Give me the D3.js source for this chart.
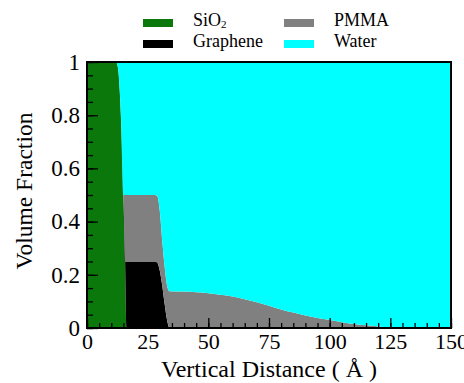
<!DOCTYPE html>
<html>
<head>
<meta charset="utf-8">
<script src="https://cdn.jsdelivr.net/npm/d3@7"></script>
<style>
body { margin:0; background:#fff; }
</style>
</head>
<body>
<svg id="chart" width="464" height="383"></svg>
<script>
// distance samples (Angstrom) and volume fractions of each material
const distance = [0, 12, 12.5, 13, 13.5, 14, 15, 15.7, 16.3, 17, 28, 29, 30, 31, 32, 33, 34,
                  40, 45, 50, 55, 60, 65, 70, 75, 80, 85, 90, 95, 100, 105, 110, 115, 120, 125, 130, 135, 150];
const sio2     = [1, 1, 0.99, 0.96, 0.89, 0.79, 0.5, 0.25, 0, 0, 0, 0, 0, 0, 0, 0, 0,
                  0, 0, 0, 0, 0, 0, 0, 0, 0, 0, 0, 0, 0, 0, 0, 0, 0, 0, 0, 0, 0];
const graphene = [0, 0, 0, 0, 0, 0, 0, 0, 0.25, 0.25, 0.25, 0.245, 0.215, 0.16, 0.09, 0.03, 0,
                  0, 0, 0, 0, 0, 0, 0, 0, 0, 0, 0, 0, 0, 0, 0, 0, 0, 0, 0, 0, 0];
const pmma     = [0, 0, 0, 0, 0, 0, 0, 0.25, 0.25, 0.25, 0.25, 0.25, 0.225, 0.17, 0.14, 0.13, 0.138,
                  0.137, 0.134, 0.131, 0.125, 0.118, 0.108, 0.097, 0.084, 0.07, 0.058, 0.047, 0.038, 0.03, 0.022, 0.015, 0.01, 0.006, 0.003, 0.001, 0, 0];
const seriesNames = ["SiO2", "Graphene", "PMMA", "Water"];
const colors = {SiO2:"#0a780a", Graphene:"#000000", PMMA:"#808080", Water:"#00ffff"};
const xTicks = [0, 25, 50, 75, 100, 125, 150];
const yTicks = [0, 0.2, 0.4, 0.6, 0.8, 1];

const serif = "'Liberation Serif', 'Times New Roman', 'DejaVu Serif', serif";

const rows = distance.map((d, i) => ({
    x: d, SiO2: sio2[i], Graphene: graphene[i], PMMA: pmma[i],
    Water: 1 - sio2[i] - graphene[i] - pmma[i]
}));

const svg = d3.select("#chart");
const plotL = 87, plotR = 451, plotT = 62, plotB = 328;

const x = d3.scaleLinear().domain([0, 150]).range([plotL, plotR]);
const y = d3.scaleLinear().domain([0, 1]).range([plotB, plotT]);

const stacked = d3.stack().keys(seriesNames)(rows);

const area = d3.area()
    .x(d => x(d.data.x))
    .y0(d => y(d[0]))
    .y1(d => y(d[1]))
    .curve(d3.curveMonotoneX);

svg.append("g").selectAll("path")
    .data(stacked)
    .join("path")
    .attr("d", area)
    .attr("fill", d => colors[d.key]);

// minor + major ticks, pointing inward
const xMinor = d3.axisBottom(x).tickValues(d3.range(0, 151, 5)).tickSizeInner(-5).tickSizeOuter(0).tickFormat("");
const xMajor = d3.axisBottom(x).tickValues(xTicks).tickSizeInner(-10).tickSizeOuter(0).tickPadding(4);
const yMinor = d3.axisLeft(y).tickValues(d3.range(0, 1.001, 0.05)).tickSizeInner(-6).tickSizeOuter(0).tickFormat("");
const yMajor = d3.axisLeft(y).tickValues(yTicks).tickSizeInner(-11).tickSizeOuter(0).tickPadding(7).tickFormat(d3.format("~g"));

[xMinor, xMajor].forEach(ax => {
    const g = svg.append("g").attr("transform", `translate(0,${plotB})`).call(ax)
        .attr("font-family", serif).attr("font-size", 22);
    g.select(".domain").remove();
    g.selectAll("line").attr("stroke", "#000").attr("stroke-width", 1.3);
    g.selectAll("text").attr("fill", "#000").attr("dy", "0.78em");
});
[yMinor, yMajor].forEach(ax => {
    const g = svg.append("g").attr("transform", `translate(${plotL},0)`).call(ax)
        .attr("font-family", serif).attr("font-size", 23);
    g.select(".domain").remove();
    g.selectAll("line").attr("stroke", "#000").attr("stroke-width", 1.3);
    g.selectAll("text").attr("fill", "#000");
});

svg.append("rect")
    .attr("x", plotL).attr("y", plotT)
    .attr("width", plotR - plotL).attr("height", plotB - plotT)
    .attr("fill", "none").attr("stroke", "#000").attr("stroke-width", 2);

// axis titles
svg.append("text")
    .attr("x", 269).attr("y", 377)
    .attr("text-anchor", "middle")
    .attr("font-family", serif).attr("font-size", 24)
    .text("Vertical Distance ( Å )");

svg.append("text")
    .attr("transform", "translate(32,191) rotate(-90)")
    .attr("text-anchor", "middle")
    .attr("font-family", serif).attr("font-size", 23.5)
    .text("Volume Fraction");

// legend
const legendItems = [
    {key:"SiO2", col:0, row:0}, {key:"Graphene", col:0, row:1},
    {key:"PMMA", col:1, row:0}, {key:"Water", col:1, row:1}
];
const legend = svg.append("g").attr("font-family", serif);
legendItems.forEach(it => {
    const lx = it.col === 0 ? 143 : 284;
    const ly = it.row === 0 ? 19 : 40;
    legend.append("rect")
        .attr("x", lx).attr("y", ly).attr("width", 30).attr("height", 8)
        .attr("fill", colors[it.key]);
    const t = legend.append("text")
        .attr("x", lx + 50).attr("y", ly + 7)
        .attr("font-size", 18);
    if (it.key === "SiO2") {
        t.append("tspan").text("SiO");
        t.append("tspan").attr("dy", "0.2em").attr("font-size", 11).text("2");
    } else {
        t.text(it.key);
    }
});
</script>
</body>
</html>
